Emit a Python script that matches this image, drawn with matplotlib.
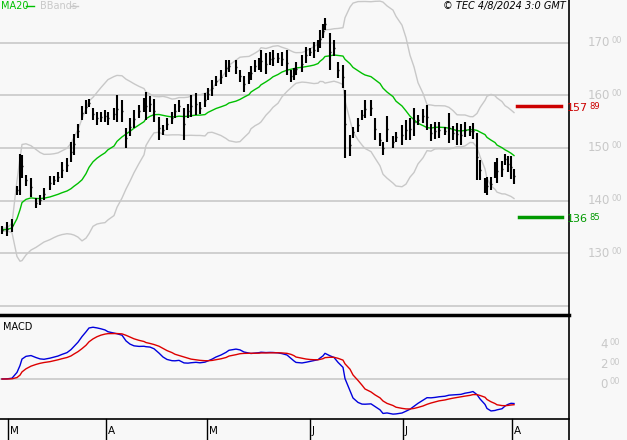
import numpy as np
import pandas as pd
import matplotlib
matplotlib.use("Agg")
import matplotlib.pyplot as plt

# time position (session axis units) , high, low
t = [2,7,12,17,20,22,26,31,36,40,44,50,54,58,62,67,71,74,78,82,86,89,93,97,101,105,108,114,117,122,
     126,130,134,139,144,146,150,154,159,163,167,172,175,179,184,188,191,196,200,205,208,212,216,221,226,229,236,240,244,249,
     251,255,259,261,266,270,273,278,282,287,291,294,296,302,306,310,314,318,320,323,325,330,334,338,343,345,350,353,358,362,
     365,371,375,380,383,387,393,396,402,406,410,414,418,423,427,431,435,439,445,449,453,457,461,465,470,473,477,480,485,487,
     491,495,497,502,505,508,511,514]
high = [135.2,136.0,136.5,142.8,148.9,148.7,144.9,144.3,140.5,141.1,142.4,144.7,144.7,145.4,147.3,148.1,151.1,152.7,154.5,158.0,
        159.1,159.3,157.6,156.8,156.8,157.2,156.8,157.6,160.0,159.1,153.8,155.7,157.2,158.2,159.5,160.6,159.9,159.3,155.9,154.4,
        155.7,156.8,158.3,159.1,157.6,158.3,160.0,160.4,158.7,160.4,161.4,162.9,163.7,164.8,166.7,166.7,166.7,164.8,163.7,164.4,
        165.6,166.7,167.1,168.6,168.0,168.2,168.6,168.0,168.2,168.6,164.8,165.2,166.3,167.6,169.2,169.0,170.1,170.5,172.4,173.5,
        174.7,171.8,170.5,166.3,165.7,161.0,152.5,154.0,155.7,157.2,159.1,159.1,155.7,152.8,151.1,156.1,152.3,153.0,154.4,155.3,
        155.7,157.6,156.3,157.4,158.2,154.5,154.9,154.9,154.0,156.6,154.2,154.7,154.5,154.9,154.2,154.7,152.8,147.7,144.3,144.5,
        144.5,147.3,148.1,147.5,148.9,148.5,148.5,146.0]
low = [133.7,133.3,134.1,141.1,141.1,144.3,142.8,140.7,138.6,139.2,140.1,142.0,143.0,143.5,144.3,145.4,147.3,148.7,151.9,155.3,
       156.4,157.8,155.3,154.4,154.9,154.9,154.4,155.3,154.9,154.9,150.0,152.3,153.8,155.7,156.8,155.3,156.8,154.9,151.5,152.5,
       153.4,154.5,155.7,156.8,151.5,155.7,155.9,156.3,156.4,157.8,159.1,159.9,161.8,162.1,163.5,164.4,164.0,162.5,160.6,162.1,
       162.9,164.4,164.8,164.4,164.0,165.7,165.5,166.1,165.5,163.8,162.5,162.9,163.8,164.4,166.1,167.5,167.1,168.2,169.0,170.9,
       172.4,164.8,167.5,163.3,161.4,148.1,148.5,151.9,153.0,155.3,155.7,156.1,151.5,150.4,148.7,151.1,150.0,151.1,150.6,151.5,
       151.5,152.3,154.4,154.7,153.4,151.3,151.7,151.9,152.5,150.9,151.5,150.6,150.6,152.1,152.3,151.7,143.9,143.9,141.4,141.1,
       142.0,144.3,143.3,144.5,146.8,145.4,144.1,143.2]
price_grid = [120, 130, 140, 150, 160, 170]
resistance = 157.89
support = 136.85
month_pos = [8, 106, 207, 310, 403, 512]
month_lbl = ["M", "A", "M", "J", "J", "A"]
macd_labels = [4, 2, 0]

W, H = 627, 440
BG = "#f8f8f8"
GR = "#c8c8c8"
fig = plt.figure(figsize=(W/100, H/100), dpi=100, facecolor=BG)
X1 = 569
ax = fig.add_axes([0, 1-315/H, X1/W, 315/H], facecolor=BG)
ax2 = fig.add_axes([0, 1-419/H, X1/W, 104/H], facecolor=BG)
for a in (ax, ax2):
    a.set_xlim(0, X1)
    for s in a.spines.values():
        s.set_visible(False)
    a.set_xticks([]); a.set_yticks([])
PLO, PHI = 118.3, 178.08
ax.set_ylim(PLO, PHI)
ax2.set_ylim(-4.0, 6.4)

tt = np.array(t); hh = np.array(high); ll = np.array(low)
mid = pd.Series((hh+ll)/2)
for g in price_grid:
    ax.axhline(g, color=GR, lw=1.2, zorder=0)
ma = mid.rolling(20, min_periods=1).mean()
sd = mid.rolling(20, min_periods=2).std().bfill()
ax.plot(tt, ma+2*sd, color=GR, lw=1)
ax.plot(tt, ma-2*sd, color=GR, lw=1)
ax.plot(tt, ma, color="#00c000", lw=1)
ax.vlines(tt, ll, hh, color="black", lw=1.5)
ax.hlines(mid, tt, tt+1.5, color="black", lw=1)

ax.plot([517, 561], [resistance]*2, color="#cc0000", lw=2.5)
ax.plot([519, 562], [support]*2, color="#009900", lw=2.5)

def yfig(val):
    return 1 - (315 - (val-PLO)/(PHI-PLO)*315)/H

for g in price_grid[1:]:
    yf = yfig(g)
    fig.text(588/W, yf, f"{g}", color=GR, fontsize=8.5, va="center", ha="left")
    fig.text(611/W, yf+2/H, "00", color=GR, fontsize=6, va="center", ha="left")
for val, col in ((resistance, "#cc0000"), (support, "#009900")):
    ip, dp = f"{val:.2f}".split(".")
    yf = yfig(val) - 2/H
    fig.text(567/W, yf, ip, color=col, fontsize=8, va="center", ha="left")
    fig.text(589/W, yf+2/H, dp, color=col, fontsize=6, va="center", ha="left")

# MACD
ema12 = mid.ewm(span=12, adjust=False).mean()
ema26 = mid.ewm(span=26, adjust=False).mean()
macd = ema12 - ema26
sig = macd.ewm(span=9, adjust=False).mean()
ax2.axhline(0, color=GR, lw=1.2, zorder=0)
ax2.plot(tt, macd, color="#0000dd", lw=1)
ax2.plot(tt, sig, color="#dd0000", lw=1)
ax2.text(3, 5.2, "MACD", fontsize=7, color="black", va="center")
for v in macd_labels:
    yf = 1 - (419 - (v+4.0)/10.4*104)/H - 5/H
    fig.text(600/W, yf, f"{v}", color=GR, fontsize=8.5, va="center", ha="left")
    fig.text(609/W, yf+2/H, "00", color=GR, fontsize=6, va="center", ha="left")

# frame lines
fig.add_artist(plt.Line2D([X1/W]*2, [0, 1], color="black", lw=1.2))
fig.add_artist(plt.Line2D([0, X1/W], [1-315/H]*2, color="black", lw=2.5))
fig.add_artist(plt.Line2D([0, X1/W], [1-419/H]*2, color="black", lw=1.2))
for p, lb in zip(month_pos, month_lbl):
    fig.add_artist(plt.Line2D([p/W]*2, [0, 1-419/H], color="black", lw=1))
    fig.text((p+2)/W, 1-431/H, lb, fontsize=7.5, va="center", ha="left")

fig.text(1/W, 1-6/H, "MA20", color="#00c000", fontsize=7, va="center")
fig.add_artist(plt.Line2D([26/W, 34/W], [1-6/H]*2, color="#00c000", lw=1))
fig.text(40/W, 1-6/H, "BBands", color=GR, fontsize=7, va="center")
fig.add_artist(plt.Line2D([70/W, 78/W], [1-6/H]*2, color=GR, lw=1))
fig.text(566/W, 1-6/H, "© TEC 4/8/2024 3:0 GMT", fontsize=7, style="italic", ha="right", va="center")

fig.savefig("out.png", dpi=100, facecolor=BG)
